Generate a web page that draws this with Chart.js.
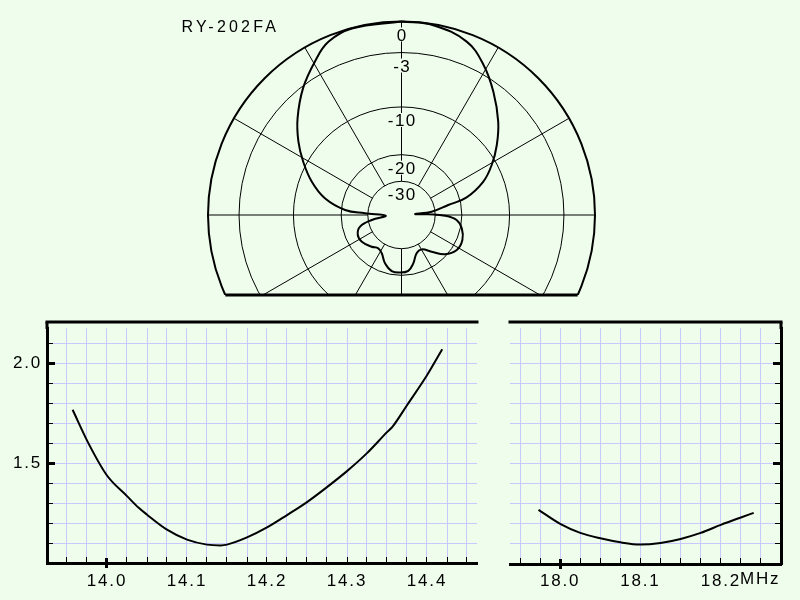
<!DOCTYPE html>
<html>
<head>
<meta charset="utf-8">
<script src="https://cdn.jsdelivr.net/npm/chart.js@4.4.1/dist/chart.umd.min.js"></script>
<style>
  html, body { margin: 0; padding: 0; background: #effeec; }
  body { width: 800px; height: 600px; position: relative; overflow: hidden; }
  canvas { position: absolute; }
  #polar { left: 0; top: 0; }
  #swr14 { left: 0; top: 300px; }
  #swr18 { left: 490px; top: 300px; }
</style>
</head>
<body>
<canvas id="polar" width="800" height="300"></canvas>
<canvas id="swr14" width="490" height="300"></canvas>
<canvas id="swr18" width="310" height="300"></canvas>
<script>
const antennaName = "RY-202FA";

// azimuth pattern: degrees clockwise from forward, gain relative to max (dB)
const patternAz = [0, 9.5, 20.6, 28.6, 36.7, 46.0, 53.7, 61.0, 67.9, 75.0,
  77.9, 83.8, 85.8, 88.5, 90.9, 95.2, 102.5, 112.4, 122.4, 132.1,
  140.6, 149.5, 158.4, 166.3, 173.1, 181.5, 189.9, 198.9, 207.3, 214.9,
  223.2, 236.1, 245.5, 254.3, 260.5, 267.5, 272.7, 275.1, 282.3, 290.3,
  298.5, 305.4, 313.0, 322.2, 330.6, 337.1, 345.1, 360];
const patternDb = [0, -0.1, -0.75, -2.1, -3.95, -6.25, -8.45, -10.8, -13.5, -18.2,
  -24.0, -31.8, -45.5, -33.9, -25.6, -21.5, -19.6, -18.5, -18.6, -20.5,
  -24.1, -27.1, -26.6, -23.3, -21.2, -20.8, -21.0, -22.9, -25.8, -26.8,
  -25.6, -24.0, -23.9, -25.8, -31.9, -43.0, -28.6, -21.1, -15.5, -12.1,
  -9.4, -7.3, -5.3, -3.2, -1.6, -0.5, -0.05, 0];

// polar grid (ARRL log scale)
const ringDb = [0, -3, -10, -20, -30];
const spokeAz = [0, 30, 60, 90, 120, 150, 180, 210, 240, 270, 300, 330];

// SWR sweeps
const freq14 = [13.957, 13.978, 14.0, 14.025, 14.04, 14.05, 14.075, 14.1, 14.125, 14.142, 14.15,
  14.175, 14.2, 14.225, 14.25, 14.275, 14.3, 14.325, 14.35, 14.357, 14.375, 14.4, 14.419];
const swr14 = [1.767, 1.59, 1.438, 1.335, 1.275, 1.242, 1.167, 1.117, 1.092, 1.088, 1.092,
  1.128, 1.178, 1.24, 1.305, 1.38, 1.46, 1.55, 1.655, 1.683, 1.79, 1.94, 2.07];
const freq18 = [17.973, 18.0, 18.025, 18.05, 18.075, 18.1, 18.125, 18.15, 18.175, 18.2, 18.225, 18.241];
const swr18 = [1.27, 1.2, 1.155, 1.128, 1.108, 1.097, 1.105, 1.125, 1.155, 1.195, 1.232, 1.255];
const swrLabels = [1.5, 2.0];

const BG = '#effeec';
const GRID = '#c8c8ff';
const FONT_FAMILY = '"Liberation Sans", Arial, sans-serif';
const FONT = '17px ' + FONT_FAMILY;
const TICK_SPACING = 1.8;

const arrl = db => Math.pow(0.89, -db / 2);
const floorY = -80 / 193.5;   // pattern window is cut off below the centre
const near = (a, b) => Math.abs(a - b) < 1e-6;

const polarPlugin = {
  id: 'polarGrid',
  beforeDatasetsDraw(chart) {
    const ctx = chart.ctx;
    const sx = chart.scales.x, sy = chart.scales.y;
    const cx = sx.getPixelForValue(0), cy = sy.getPixelForValue(0);
    const R = sx.getPixelForValue(1) - cx;
    const fy = sy.getPixelForValue(floorY);
    ctx.save();
    ctx.beginPath();
    ctx.rect(0, 0, chart.width, fy);
    ctx.clip();
    ctx.strokeStyle = '#000';
    ctx.lineWidth = 1;
    ringDb.slice(1).forEach(db => {
      ctx.beginPath();
      ctx.arc(cx, cy, R * arrl(db), 0, Math.PI * 2);
      ctx.stroke();
    });
    const rIn = R * arrl(ringDb[ringDb.length - 1]);
    spokeAz.forEach(a => {
      const t = a * Math.PI / 180;
      ctx.beginPath();
      ctx.moveTo(cx + rIn * Math.sin(t), cy - rIn * Math.cos(t));
      ctx.lineTo(cx + R * Math.sin(t), cy - R * Math.cos(t));
      ctx.stroke();
    });
    ctx.lineWidth = 2;
    ctx.beginPath();
    ctx.arc(cx, cy, R, 0, Math.PI * 2);
    ctx.stroke();
    ctx.restore();

    const half = Math.sqrt(R * R - (fy - cy) * (fy - cy));
    ctx.save();
    ctx.lineWidth = 3;
    ctx.beginPath();
    ctx.moveTo(cx - half, fy);
    ctx.lineTo(cx + half, fy);
    ctx.stroke();
    ctx.restore();
  },
  afterDatasetsDraw(chart) {
    const ctx = chart.ctx;
    const sx = chart.scales.x, sy = chart.scales.y;
    const cx = sx.getPixelForValue(0), cy = sy.getPixelForValue(0);
    const R = sx.getPixelForValue(1) - cx;
    ctx.save();
    ctx.font = FONT;
    ctx.letterSpacing = '1.4px';
    ctx.textBaseline = 'alphabetic';
    ctx.textAlign = 'left';
    ringDb.forEach(db => {
      const txt = String(db);
      const w = ctx.measureText(txt).width - 1.4;
      const mid = cy - R * arrl(db) + 13;
      ctx.fillStyle = BG;
      ctx.fillRect(cx - w / 2 - 1, mid - 7, w + 2, 14);
      ctx.fillStyle = '#000';
      ctx.fillText(txt, cx - w / 2, mid + 6);
    });
    ctx.font = '16px ' + FONT_FAMILY;
    ctx.letterSpacing = '3.2px';
    ctx.fillText(antennaName, 181.5, 32);
    ctx.restore();
  }
};

new Chart(document.getElementById('polar'), {
  type: 'scatter',
  data: {
    datasets: [{
      data: patternAz.map((a, i) => {
        const r = arrl(patternDb[i]), t = a * Math.PI / 180;
        return { x: r * Math.sin(t), y: r * Math.cos(t) };
      }),
      showLine: true,
      borderColor: '#000',
      borderWidth: 2,
      pointRadius: 0,
      tension: 0.4
    }]
  },
  options: {
    responsive: false,
    animation: false,
    devicePixelRatio: 1,
    events: [],
    layout: { padding: 0 },
    plugins: { legend: { display: false }, tooltip: { enabled: false } },
    scales: {
      x: { display: false, min: -401.5 / 193.5, max: 398.5 / 193.5 },
      y: { display: false, min: -85 / 193.5, max: 215 / 193.5 }
    }
  },
  plugins: [polarPlugin]
});

function framePlugin(side, majorFreq) {
  return {
    id: 'frame',
    beforeDraw(chart) { chart.ctx.letterSpacing = TICK_SPACING + 'px'; },
    afterDraw(chart) {
      const ctx = chart.ctx;
      const a = chart.chartArea;
      const sx = chart.scales.x, sy = chart.scales.y;
      const lip = 6;   // frame sits a little above the plotting area
      ctx.save();
      ctx.fillStyle = '#000';
      ctx.fillRect(a.left - 1.5, a.top - lip - 1.5, a.right - a.left + 3, 3);
      if (side === 'left') ctx.fillRect(a.left - 1.5, a.top - lip, 3, lip + 1);
      else ctx.fillRect(a.right - 1.5, a.top - lip, 3, lip + 1);
      sx.ticks.forEach(t => {
        const px = Math.round(sx.getPixelForValue(t.value) - 0.5);
        if (px <= a.left + 2 || px >= a.right - 2) return;
        if (near(t.value, majorFreq)) ctx.fillRect(px - 1, a.bottom - 5, 3, 10);
        else ctx.fillRect(px, a.bottom - 6, 1, 6);
      });
      sy.ticks.forEach(t => {
        const py = Math.round(sy.getPixelForValue(t.value) - 0.5);
        if (py <= a.top - 1 || py >= a.bottom - 2) return;
        const major = swrLabels.some(v => near(v, t.value));
        const len = major ? 8 : 6, th = major ? 3 : 1;
        const x0 = side === 'left' ? a.left : a.right - len;
        ctx.fillRect(x0, py - (major ? 1 : 0), len, th);
      });
      if (side === 'right') {
        // unit after the last labelled tick
        const last = sx.ticks.filter(t => near(Math.round(t.value * 10) / 10, t.value)).pop();
        const px = sx.getPixelForValue(last.value);
        ctx.font = FONT;
        ctx.letterSpacing = TICK_SPACING + 'px';
        const w = ctx.measureText(last.value.toFixed(1)).width;
        ctx.textAlign = 'left';
        ctx.textBaseline = 'top';
        ctx.fillText('MHz', px + w / 2 - TICK_SPACING / 2, a.bottom + chart.options.scales.x.ticks.padding);
      }
      ctx.restore();
    }
  };
}

function swrChart(id, freqs, swrs, o) {
  return new Chart(document.getElementById(id), {
    type: 'scatter',
    data: {
      datasets: [{
        data: freqs.map((f, i) => ({ x: f, y: swrs[i] })),
        showLine: true,
        borderColor: '#000',
        borderWidth: 2,
        pointRadius: 0,
        cubicInterpolationMode: 'monotone'
      }]
    },
    options: {
      responsive: false,
      animation: false,
      devicePixelRatio: 1,
      events: [],
      layout: { padding: o.padding },
      plugins: { legend: { display: false }, tooltip: { enabled: false } },
      scales: {
        x: {
          min: o.xMin, max: o.xMax,
          border: { color: '#000', width: 3 },
          grid: { color: GRID, lineWidth: 1, drawTicks: false },
          ticks: {
            stepSize: 0.025, includeBounds: false, autoSkip: false, maxRotation: 0,
            padding: o.xPad, color: '#000', font: { family: FONT_FAMILY, size: 17 },
            callback: v => near(Math.round(v * 10) / 10, v) ? v.toFixed(1) : ''
          },
          afterFit: s => { s.height = o.xHeight; }
        },
        y: {
          position: o.side,
          min: 1.0, max: 2.1765,
          border: { color: '#000', width: 3 },
          grid: { color: GRID, lineWidth: 1, drawTicks: false },
          ticks: {
            display: o.side === 'left',
            stepSize: 0.1, includeBounds: false, autoSkip: false, padding: 5, color: '#000',
            font: { family: FONT_FAMILY, size: 17 },
            callback: v => swrLabels.some(l => near(l, v)) ? v.toFixed(1) : ''
          },
          afterFit: s => { s.width = o.yWidth; }
        }
      }
    },
    plugins: [framePlugin(o.side, o.majorFreq)]
  });
}

swrChart('swr14', freq14, swr14, {
  xMin: 13.925, xMax: 14.4625, side: 'left', majorFreq: 14.0,
  padding: { top: 28, right: 13, left: 0, bottom: 0 },
  xHeight: 37, yWidth: 47, xPad: 8
});
swrChart('swr18', freq18, swr18, {
  xMin: 17.9375, xMax: 18.275, side: 'right', majorFreq: 18.0,
  padding: { top: 28, right: 0, left: 20, bottom: 0 },
  xHeight: 36, yWidth: 19, xPad: 7
});
</script>
</body>
</html>
